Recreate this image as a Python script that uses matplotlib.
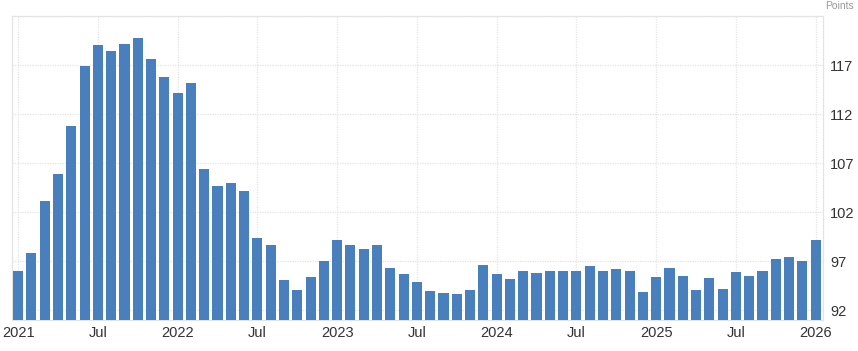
import numpy as np
import matplotlib
matplotlib.use("Agg")
import matplotlib.pyplot as plt

plt.rcParams["font.family"] = ["Liberation Sans", "DejaVu Sans"]

# ── データ（2021年1月〜2026年1月、月次） ─────────────────────────
months = [f"{y}-{m:02d}" for y in range(2021, 2026) for m in range(1, 13)] + ["2026-01"]
values = [
    96.0, 97.8, 103.1, 105.9, 110.8, 116.9, 119.0, 118.4, 119.1, 119.8, 117.6, 115.8,
    114.1, 115.2, 106.4, 104.7, 105.0, 104.2, 99.4, 98.6, 95.1, 94.1, 95.4, 97.0,
    99.2, 98.6, 98.2, 98.6, 96.3, 95.7, 94.9, 94.0, 93.8, 93.7, 94.1, 96.6,
    95.7, 95.2, 96.0, 95.8, 96.0, 96.0, 96.0, 96.5, 96.0, 96.2, 96.0, 93.9,
    95.4, 96.3, 95.5, 94.1, 95.3, 94.2, 95.9, 95.5, 96.0, 97.2, 97.4, 97.0,
    99.2,
]
xtick_idx = [0, 6, 12, 18, 24, 30, 36, 42, 48, 54, 60]
xtick_labels = ["2021", "Jul", "2022", "Jul", "2023", "Jul", "2024", "Jul", "2025", "Jul", "2026"]
ytick_vals = [92, 97, 102, 107, 112, 117]

BAR_COLOR = "#4a7fbe"
GRID_COLOR = "#e4e4e4"
TEXT_COLOR = "#333333"

fig = plt.figure(figsize=(8.58, 3.51), dpi=100)
ax = fig.add_axes([12 / 858, 1 - 320 / 351, (823 - 12) / 858, (320 - 16) / 351])

x = np.arange(len(values))
ax.bar(x, np.array(values) - 91, bottom=91, width=0.76, color=BAR_COLOR, zorder=3)

ax.set_xlim(-0.46, 60.55)
ax.set_ylim(91, 122)

# グリッド（点線）
for yv in ytick_vals + [122]:
    ax.axhline(yv, color=GRID_COLOR, lw=0.9, ls=(0, (1, 1)), zorder=1)
for xi in xtick_idx:
    ax.axvline(xi, color=GRID_COLOR, lw=0.9, ls=(0, (1, 1)), zorder=1)

ax.set_xticks(xtick_idx)
ax.set_xticklabels(xtick_labels, fontsize=10.5, color=TEXT_COLOR)
ax.yaxis.tick_right()
ax.set_yticks(ytick_vals)
ax.set_yticklabels([str(v) for v in ytick_vals], fontsize=10.5, color=TEXT_COLOR)
ax.tick_params(axis="both", length=0)
ax.tick_params(axis="x", pad=4)
ax.tick_params(axis="y", pad=5)

for s in ax.spines.values():
    s.set_color(GRID_COLOR)
    s.set_linewidth(0.9)

# 単位ラベル（右上）
fig.text(854 / 858, 350 / 351, "Points", ha="right", va="top", fontsize=7.5, color="#999999")

fig.savefig("out.png", dpi=100)
plt.close(fig)
